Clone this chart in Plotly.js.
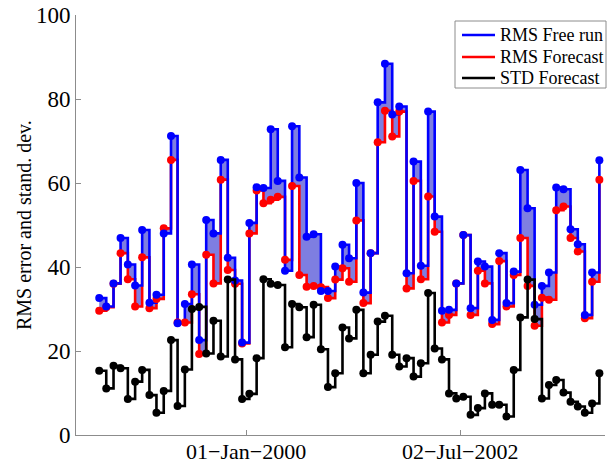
<!DOCTYPE html>
<html>
<head>
<meta charset="utf-8">
<script src="https://cdn.plot.ly/plotly-3.0.1.min.js"></script>
<style>
html,body{margin:0;padding:0;background:#fff;}
#chart{width:610px;height:464px;}
</style>
</head>
<body>
<div id="chart"></div>
<script>
// Monthly sample dates (mid-month)
const dates = [
 '1998-04-15','1998-05-15','1998-06-15','1998-07-15','1998-08-15','1998-09-15','1998-10-15','1998-11-15','1998-12-15',
 '1999-01-15','1999-02-15','1999-03-15','1999-04-15','1999-05-15','1999-06-15','1999-07-15','1999-08-15','1999-09-15','1999-10-15','1999-11-15','1999-12-15',
 '2000-01-15','2000-02-15','2000-03-15','2000-04-15','2000-05-15','2000-06-15','2000-07-15','2000-08-15','2000-09-15','2000-10-15','2000-11-15','2000-12-15',
 '2001-01-15','2001-02-15','2001-03-15','2001-04-15','2001-05-15','2001-06-15','2001-07-15','2001-08-15','2001-09-15','2001-10-15','2001-11-15','2001-12-15',
 '2002-01-15','2002-02-15','2002-03-15','2002-04-15','2002-05-15','2002-06-15','2002-07-15','2002-08-15','2002-09-15','2002-10-15','2002-11-15','2002-12-15',
 '2003-01-15','2003-02-15','2003-03-15','2003-04-15','2003-05-15','2003-06-15','2003-07-15','2003-08-15','2003-09-15','2003-10-15','2003-11-15','2003-12-15',
 '2004-01-15','2004-02-15'
];

const rmsFreeRun = [
 32.6,30.6,36.1,46.9,40.6,35.6,48.8,31.5,33.4,48.0,
 71.2,26.6,31.2,40.6,22.6,51.2,48.0,65.5,42.2,36.8,
 22.0,50.5,59.0,58.8,72.8,60.5,39.1,73.5,61.3,47.2,
 47.8,34.3,34.3,40.1,45.3,42.1,60.0,33.9,43.3,79.2,
 88.4,76.3,78.2,38.5,65.1,40.3,77.0,52.0,29.6,29.8,
 36.1,47.6,30.2,41.3,40.1,27.4,43.3,31.4,38.9,63.1,
 54.0,31.0,35.5,38.7,58.9,58.5,49.0,45.4,28.6,38.7,
 65.4
];

const rmsForecast = [
 29.6,30.4,36.0,43.3,37.1,30.6,42.3,30.2,32.4,49.2,
 65.5,26.8,26.8,33.5,19.3,42.9,36.1,60.8,39.3,36.0,
 21.8,48.0,58.2,55.2,56.0,56.7,41.7,59.3,38.1,35.3,
 35.5,35.2,32.6,37.0,39.7,36.5,51.1,31.4,43.3,69.7,
 77.2,71.1,77.0,34.9,60.5,37.1,56.8,48.4,26.8,28.6,
 36.1,47.6,28.6,39.1,36.1,26.4,41.4,30.6,38.1,46.9,
 35.5,26.0,32.7,32.2,53.5,54.4,46.9,43.7,27.8,36.5,
 60.8
];

const stdForecast = [
 15.3,11.1,16.5,15.9,8.6,12.7,15.5,9.5,5.3,10.5,
 22.6,6.9,15.6,30.0,30.5,19.4,27.2,18.7,37.0,18.0,
 8.6,9.8,18.3,37.1,36.0,35.7,20.9,31.2,30.4,23.3,
 31.0,20.4,11.4,14.7,25.6,23.0,29.8,14.7,19.1,27.0,
 28.4,19.1,16.3,18.3,13.9,17.1,33.8,20.6,18.0,9.9,
 8.7,9.1,4.8,6.4,9.9,7.2,7.2,4.4,15.5,28.0,
 37.0,27.6,8.7,11.9,13.1,10.1,7.9,6.8,5.3,7.5,
 14.7
];

const tickDates = ['2000-01-01','2002-07-02'];
const tickLabels = ['01\u2212Jan\u22122000','02\u2212Jul\u22122002'];

const seriesNames = ['RMS Free run','RMS Forecast','STD Forecast'];
const seriesColors = ['#0000ff','#ff0000','#000000'];

const FONT = 'Liberation Serif, Times New Roman, serif';
const LW = 2.6, MS = 8;

const traces = [
  // fill band between the two RMS curves
  {x: dates, y: rmsForecast, type:'scatter', mode:'lines', showlegend:false,
   line:{color:'rgba(0,0,0,0)', width:0, shape:'hv'}, hoverinfo:'skip'},
  {x: dates, y: rmsFreeRun, type:'scatter', mode:'lines', showlegend:false,
   line:{color:'rgba(0,0,0,0)', width:0, shape:'hv'}, fill:'tonexty',
   fillcolor:'rgba(20,20,200,0.55)', hoverinfo:'skip'},
  {x: dates, y: rmsForecast, type:'scatter', mode:'lines', name:seriesNames[1],
   line:{color:seriesColors[1], width:LW, shape:'hv'}},
  {x: dates, y: rmsFreeRun, type:'scatter', mode:'lines', name:seriesNames[0],
   line:{color:seriesColors[0], width:LW, shape:'hv'}},
  {x: dates, y: rmsForecast, type:'scatter', mode:'markers', name:seriesNames[1],
   marker:{color:seriesColors[1], size:MS}},
  {x: dates, y: rmsFreeRun, type:'scatter', mode:'markers', name:seriesNames[0],
   marker:{color:seriesColors[0], size:MS}},
  {x: dates, y: stdForecast, type:'scatter', mode:'lines', name:seriesNames[2],
   line:{color:seriesColors[2], width:LW, shape:'hv'}},
  {x: dates, y: stdForecast, type:'scatter', mode:'markers', name:seriesNames[2],
   marker:{color:seriesColors[2], size:MS}}
];

// Legend drawn as a boxed key (pixel positions converted to paper coords)
const PL = 76, PW = 529, PB = 435, PH = 420;
const px = v => (v - PL) / PW;
const py = v => (PB - v) / PH;
const keyRows = [35, 57, 78];

const shapes = [
  {type:'rect', xref:'paper', yref:'paper', x0:px(455), x1:px(606), y0:py(88), y1:py(21),
   line:{color:'#8c8c8c', width:1}, fillcolor:'#ffffff', layer:'above'}
];
const annotations = [
  {xref:'paper', yref:'paper', x:px(24), y:0.5, xanchor:'center', yanchor:'middle',
   text:'RMS error and stand. dev.', textangle:-90, showarrow:false,
   font:{family:FONT, size:20, color:'#000'}}
];
seriesNames.forEach((n, i) => {
  shapes.push({type:'line', xref:'paper', yref:'paper', x0:px(462), x1:px(495),
    y0:py(keyRows[i]), y1:py(keyRows[i]), line:{color:seriesColors[i], width:2.6}, layer:'above'});
  annotations.push({xref:'paper', yref:'paper', x:px(498), y:py(keyRows[i]),
    xanchor:'left', yanchor:'middle', text:n, showarrow:false,
    font:{family:FONT, size:18, color:'#000'}});
});

const layout = {
  width:610, height:464,
  margin:{l:76, r:5, t:15, b:29},
  paper_bgcolor:'#ffffff', plot_bgcolor:'#ffffff',
  font:{family:FONT, size:20, color:'#000'},
  showlegend:false,
  xaxis:{type:'date', range:['1998-01-06','2004-03-10'],
    tickvals:tickDates, ticktext:tickLabels,
    ticks:'inside', ticklen:5, tickcolor:'#8c8c8c',
    showline:true, linecolor:'#8c8c8c', linewidth:1,
    showgrid:false, zeroline:false, ticklabelstandoff:-3,
    tickfont:{family:FONT, size:22, color:'#000'}},
  yaxis:{range:[0,100], tickvals:[0,20,40,60,80,100],
    ticks:'inside', ticklen:5, tickcolor:'#8c8c8c',
    showline:true, linecolor:'#8c8c8c', linewidth:1,
    showgrid:false, zeroline:false,
    tickfont:{family:FONT, size:23, color:'#000'}},
  shapes: shapes,
  annotations: annotations
};

Plotly.newPlot('chart', traces, layout, {displayModeBar:false, staticPlot:true});
</script>
</body>
</html>
